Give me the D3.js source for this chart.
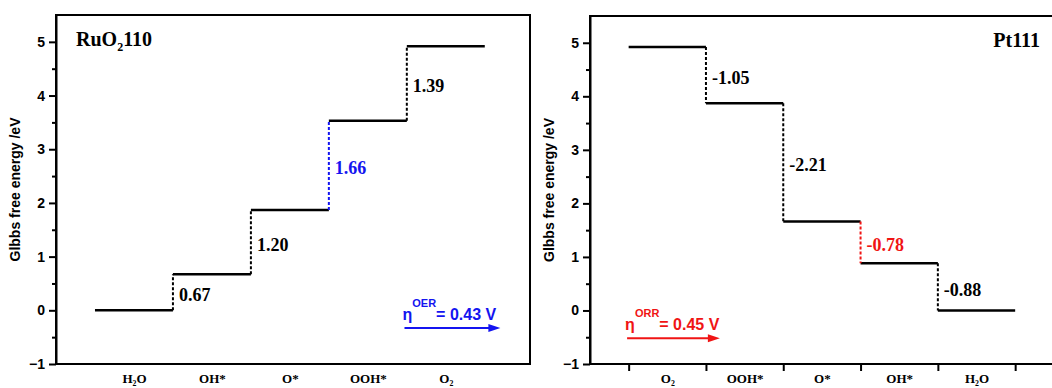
<!DOCTYPE html>
<html>
<head>
<meta charset="utf-8">
<script src="https://cdn.jsdelivr.net/npm/d3@7"></script>
<style>
  body { margin: 0; background: #fff; }
  .tick-lbl { font-family: Arial, "Liberation Sans", sans-serif; font-weight: bold; font-size: 14px; }
  .axis-title { font-family: Arial, "Liberation Sans", sans-serif; font-weight: bold; font-size: 14px; }
  .cat-lbl { font-family: "Times New Roman", "Liberation Serif", serif; font-weight: bold; font-size: 13px; }
  .step-lbl { font-family: "Times New Roman", "Liberation Serif", serif; font-weight: bold; font-size: 18px; }
  .panel-title { font-family: "Times New Roman", "Liberation Serif", serif; font-weight: bold; font-size: 20px; }
  .eta { font-family: Arial, "Liberation Sans", sans-serif; font-weight: bold; font-size: 16px; }
</style>
</head>
<body>
<div id="chart"></div>
<script>
// data
const oerSteps = ['H_{2}O', 'OH*', 'O*', 'OOH*', 'O_{2}'];
const oerEnergy = [0, 0.67, 1.87, 3.53, 4.92];
const oerDelta = ['0.67', '1.20', '1.66', '1.39'];
const oerLimiting = 2;   // index of the step that is coloured

const orrSteps = ['O_{2}', 'OOH*', 'O*', 'OH*', 'H_{2}O'];
const orrEnergy = [4.92, 3.87, 1.66, 0.88, 0];
const orrDelta = ['-1.05', '-2.21', '-0.78', '-0.88'];
const orrLimiting = 2;

const yTicks = [-1, 0, 1, 2, 3, 4, 5];
const yMinorTicks = [-0.5, 0.5, 1.5, 2.5, 3.5, 4.5];

const svg = d3.select('#chart').append('svg')
    .attr('width', 1052)
    .attr('height', 388);

// write a label like 'H_{2}O' into a text element with subscripts
function richText(sel, str, subShift) {
    sel.text(null);
    const parts = str.split(/(_\{[^}]*\})/).filter(p => p.length);
    let pending = 0;
    parts.forEach(p => {
        if (p.startsWith('_{')) {
            sel.append('tspan').attr('dy', subShift + pending).attr('font-size', '0.6em').text(p.slice(2, -1));
            pending = -subShift;
        } else {
            const ts = sel.append('tspan').text(p);
            if (pending) ts.attr('dy', pending);
            pending = 0;
        }
    });
}

function drawPanel(cfg) {
    const x = d3.scaleLinear().domain([-1, 5.08]).range([cfg.left, cfg.right]);
    const y = d3.scaleLinear().domain([-1, 5.5]).range([cfg.bottom, cfg.top]);
    const g = svg.append('g');

    // frame
    g.append('rect')
        .attr('x', cfg.left).attr('y', cfg.top)
        .attr('width', cfg.right - cfg.left).attr('height', cfg.bottom - cfg.top)
        .attr('fill', 'none').attr('stroke', '#000').attr('stroke-width', 2);

    // y axis
    const yAxis = d3.axisLeft(y).tickValues(yTicks).tickSize(7).tickPadding(4).tickSizeOuter(0)
        .tickFormat(d3.format('d'));
    const yG = g.append('g').attr('transform', `translate(${cfg.left},0)`).call(yAxis);
    yG.select('.domain').attr('stroke-width', 2);
    yG.selectAll('.tick line').attr('stroke-width', 2);
    yG.selectAll('.tick text').attr('class', 'tick-lbl').attr('fill', '#000');

    const yMinor = d3.axisLeft(y).tickValues(yMinorTicks).tickSize(4).tickFormat('').tickSizeOuter(0);
    const yMG = g.append('g').attr('transform', `translate(${cfg.left},0)`).call(yMinor);
    yMG.select('.domain').remove();
    yMG.selectAll('.tick line').attr('stroke-width', 2);

    // x axis with category labels
    const xAxis = d3.axisBottom(x).tickValues(d3.range(cfg.steps.length)).tickSize(0).tickPadding(10)
        .tickFormat(i => cfg.steps[i]);
    const xG = g.append('g').attr('transform', `translate(0,${cfg.bottom})`).call(xAxis);
    xG.select('.domain').remove();
    xG.selectAll('.tick text').attr('class', 'cat-lbl').attr('fill', '#000')
        .each(function(d) { richText(d3.select(this), cfg.steps[d], 3); });

    if (cfg.boundaryTicks) {
        const bAxis = d3.axisBottom(x).tickValues(d3.range(cfg.steps.length + 1).map(i => i - 0.5))
            .tickSize(7).tickFormat('').tickSizeOuter(0);
        const bG = g.append('g').attr('transform', `translate(0,${cfg.bottom})`).call(bAxis);
        bG.select('.domain').remove();
        bG.selectAll('.tick line').attr('stroke-width', 2);
    }

    // energy levels
    g.selectAll('.level').data(cfg.energy).join('line')
        .attr('class', 'level')
        .attr('x1', (d, i) => x(i - 0.5)).attr('x2', (d, i) => x(i + 0.5))
        .attr('y1', d => y(d)).attr('y2', d => y(d))
        .attr('stroke', '#000').attr('stroke-width', 2.5);

    // dotted connectors
    const links = d3.range(cfg.energy.length - 1);
    g.selectAll('.link').data(links).join('line')
        .attr('class', 'link')
        .attr('x1', i => x(i + 0.5)).attr('x2', i => x(i + 0.5))
        .attr('y1', i => y(cfg.energy[i])).attr('y2', i => y(cfg.energy[i + 1]))
        .attr('stroke', i => i === cfg.limiting ? cfg.color : '#000')
        .attr('stroke-width', 2).attr('stroke-dasharray', '3,2');

    g.selectAll('.step-lbl').data(links).join('text')
        .attr('class', 'step-lbl')
        .attr('x', i => x(i + 0.5) + 6)
        .attr('y', i => y((cfg.energy[i] + cfg.energy[i + 1]) / 2) + 9)
        .attr('fill', i => i === cfg.limiting ? cfg.color : '#000')
        .text(i => cfg.delta[i]);

    // panel title
    const t = g.append('text').attr('class', 'panel-title')
        .attr('x', cfg.titleX).attr('y', cfg.top + 31)
        .attr('text-anchor', cfg.titleAnchor);
    richText(t, cfg.title, 5);

    // y axis title
    g.append('text').attr('class', 'axis-title')
        .attr('transform', `translate(${cfg.left - 36},${(cfg.top + cfg.bottom) / 2}) rotate(-90)`)
        .attr('text-anchor', 'middle')
        .text('Glbbs free energy /eV');

    // overpotential annotation with arrow
    const ax0 = x(cfg.arrow[0]), ax1 = x(cfg.arrow[1]), ay = y(cfg.arrowY);
    g.append('line')
        .attr('x1', ax0).attr('x2', ax1 - 8).attr('y1', ay).attr('y2', ay)
        .attr('stroke', cfg.color).attr('stroke-width', 2);
    g.append('path')
        .attr('d', `M${ax1},${ay} L${ax1 - 12},${ay - 4} L${ax1 - 12},${ay + 4} Z`)
        .attr('fill', cfg.color);
    const eta = g.append('text').attr('class', 'eta')
        .attr('x', ax0 - 2).attr('y', ay - 8).attr('fill', cfg.color);
    eta.append('tspan').text('η');
    eta.append('tspan').attr('dy', -13).attr('font-size', '11px').text(cfg.etaSup);
    eta.append('tspan').attr('dy', 13).text(cfg.etaText);
}

drawPanel({
    left: 56, right: 530, top: 15, bottom: 364,
    steps: oerSteps, energy: oerEnergy, delta: oerDelta, limiting: oerLimiting,
    color: '#1414f0', boundaryTicks: false,
    title: 'RuO_{2}110', titleX: 76, titleAnchor: 'start',
    arrow: [3.47, 4.7], arrowY: -0.33, etaSup: 'OER', etaText: '= 0.43 V'
});

drawPanel({
    left: 590, right: 1060, top: 16, bottom: 364,
    steps: orrSteps, energy: orrEnergy, delta: orrDelta, limiting: orrLimiting,
    color: '#f01414', boundaryTicks: true,
    title: 'Pt111', titleX: 1040, titleAnchor: 'end',
    arrow: [-0.52, 0.68], arrowY: -0.52, etaSup: 'ORR', etaText: '= 0.45 V'
});
</script>
</body>
</html>
